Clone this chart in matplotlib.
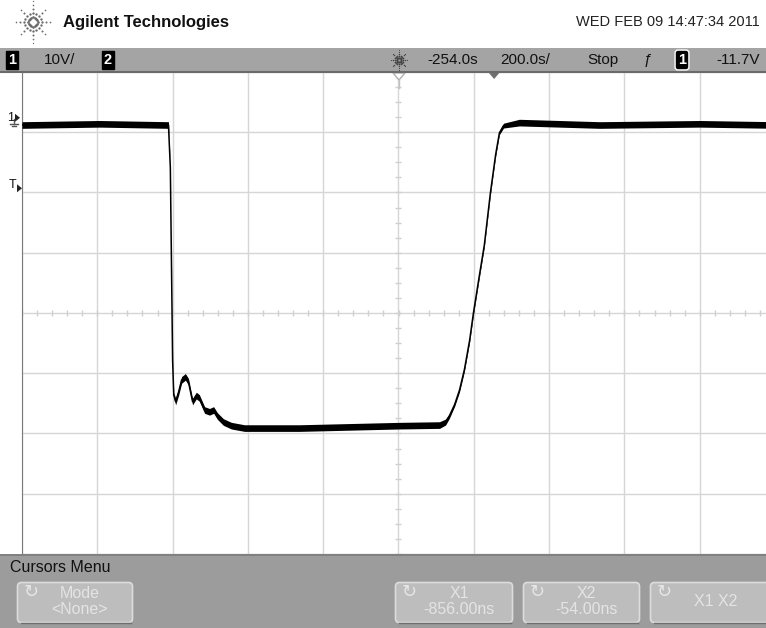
import numpy as np
import matplotlib
matplotlib.use("Agg")
import matplotlib.pyplot as plt
from matplotlib.patches import Rectangle, FancyBboxPatch, Polygon

# scope settings
volts_per_div = 10.0
time_per_div = 200.0      # ns
delay = -254.0            # ns, centre of screen
centre_volts = -32.4      # channel 1 level at the centre line
trig_level = -11.7

# channel 1 trace (ns, V)
t_ns = [-1254, -1048, -865, -860, -854, -851, -846, -838, -830, -820, -812, -801,
        -791, -783, -769, -756, -745, -735, -719, -698, -663, -517, -384, -251,
        -145, -129, -119, -105, -92, -79, -65, -55, -39, -26, -10, 4, 14, 25,
        67, 280, 546, 746]
v_ch1 = [-1.2, -1.0, -1.2, -8.3, -40.2, -46.0, -47.1, -45.5, -43.5, -43.0, -43.8, -47.1,
         -46.1, -46.5, -48.5, -48.8, -48.5, -49.5, -50.5, -51.1, -51.5, -51.5, -51.3, -51.1,
         -51.0, -50.5, -49.5, -47.6, -45.2, -41.8, -36.9, -32.4, -26.1, -21.1, -12.5, -6.1, -2.5, -1.3,
         -0.8, -1.2, -1.0, -1.2]
# half height of the noise band on the trace (V)
noise = [0.55, 0.55, 0.55, 0.2, 0.2, 0.4, 0.55, 0.55, 0.55, 0.55, 0.55, 0.55,
         0.55, 0.55, 0.55, 0.55, 0.55, 0.55, 0.55, 0.55, 0.55, 0.55, 0.55, 0.55,
         0.55, 0.5, 0.4, 0.3, 0.3, 0.3, 0.3, 0.3, 0.3, 0.3, 0.3, 0.3, 0.3, 0.4,
         0.55, 0.55, 0.55, 0.55]

header = "Agilent Technologies"
date_str = "WED FEB 09 14:47:34 2011"
buttons = [("Mode", "<None>"), ("X1", "-856.00ns"), ("X2", "-54.00ns"), ("X1 X2", None)]

W, H = 766, 628
narrow = ["Liberation Sans Narrow", "Liberation Sans", "DejaVu Sans"]

fig = plt.figure(figsize=(W / 100, H / 100), dpi=100)
fig.patch.set_facecolor("white")

# graticule area (pixels 22..775 x 72..554)
ax = fig.add_axes([22 / W, 1 - 554 / H, (775 - 22) / W, (554 - 72) / H])
ax.set_xlim(delay - 5 * time_per_div, delay + 5 * time_per_div)
ax.set_ylim(centre_volts - 4 * volts_per_div, centre_volts + 4 * volts_per_div)
ax.set_xticks(delay + time_per_div * np.arange(-5, 6))
ax.set_yticks(centre_volts + volts_per_div * np.arange(-4, 5))
ax.grid(True, color="#d6d6d6", lw=1.0)
ax.tick_params(length=0, labelbottom=False, labelleft=False)
for s in ["top", "right"]:
    ax.spines[s].set_visible(False)
ax.spines["left"].set_color("#7a7a7a")
ax.spines["bottom"].set_color("#8a8a8a")

# fine ticks on the centre cross
xs = delay + time_per_div * np.arange(-5, 5.01, 0.2)
ax.plot(xs, np.full(len(xs), centre_volts), "|", ms=5, color="#cfcfcf", mew=1)
ys = centre_volts + volts_per_div * np.arange(-4, 4.01, 0.25)
ax.plot(np.full(len(ys), delay), ys, "_", ms=5, color="#cfcfcf", mew=1)

t = np.array(t_ns)
v = np.array(v_ch1)
n = np.array(noise)
ax.fill_between(t, v - n, v + n, color="black", lw=0, zorder=3)
ax.plot(t, v, color="black", lw=1.1, zorder=4)

# overlay in pixel coordinates for the scope furniture
ov = fig.add_axes([0, 0, 1, 1], facecolor="none")
ov.set_xlim(0, W)
ov.set_ylim(H, 0)
ov.axis("off")


def spark(cx, cy, r, size, col):
    # Agilent spark made of dots
    for k in range(16):
        a = np.pi * k / 8
        rays = [0.3, 0.55, 0.8, 1.05] if k % 2 == 0 else [0.3, 0.55]
        if k % 8 == 4:
            rays = [0.3, 0.55, 0.8, 1.05, 1.3]
        for j, rr in enumerate(rays):
            ov.scatter(cx + r * rr * np.cos(a), cy + r * rr * np.sin(a),
                       s=size * max(1.2 - 0.25 * j, 0.3), color=col, lw=0)


spark(33, 22, 16, 3, "#6a6a6a")
ov.text(63, 22, header, fontsize=12, fontweight="bold", va="center", ha="left",
        family=narrow, color="#111111")
ov.text(760, 22, date_str, fontsize=10.5, va="center", ha="right", family=narrow, color="#222222")

# status bar
ov.add_patch(Rectangle((0, 48), W, 24, color="#a4a4a4", lw=0))
ov.plot([0, W], [71.5, 71.5], color="#6a6a6a", lw=1.5)
ov.text(12, 60, "1", fontsize=10.5, fontweight="bold", color="white", ha="center", va="center",
        family=narrow, bbox=dict(boxstyle="square,pad=0.12", fc="black", ec="black"))
ov.text(44, 60, "10V/", fontsize=11, ha="left", va="center", family=narrow, color="#111111")
ov.text(108, 60, "2", fontsize=10.5, fontweight="bold", color="white", ha="center", va="center",
        family=narrow, bbox=dict(boxstyle="square,pad=0.12", fc="black", ec="black"))
spark(399, 60, 8, 1.6, "#444444")
ov.text(427, 60, "-254.0s", fontsize=11, ha="left", va="center", family=narrow, color="#111111")
ov.text(500, 60, "200.0s/", fontsize=11, ha="left", va="center", family=narrow, color="#111111")
ov.text(587, 60, "Stop", fontsize=11, ha="left", va="center", family=narrow, color="#111111")
ov.text(648, 60, "ƒ", fontsize=11, ha="center", va="center", family=narrow, color="#111111")
ov.text(682, 60, "1", fontsize=10.5, fontweight="bold", color="white", ha="center", va="center",
        family=narrow, bbox=dict(boxstyle="round,pad=0.2", fc="black", ec="white", lw=1))
ov.text(760, 60, "-11.7V", fontsize=11, ha="right", va="center", family=narrow, color="#111111")

# delay and trigger markers below the status bar
ov.add_patch(Polygon([[393, 73], [405, 73], [399, 80]], closed=True, fc="white", ec="#b0b0b0", lw=1))
ov.plot([399, 399], [80, 88], color="#c0c0c0", lw=1)
x_trig = 22 + (0 - (delay - 5 * time_per_div)) / (10 * time_per_div) * (775 - 22)
ov.add_patch(Polygon([[x_trig - 6, 72], [x_trig + 6, 72], [x_trig, 79]], closed=True,
                     fc="#707070", ec="none"))

# channel ground and trigger level markers on the left edge
y_gnd = 554 - (0 - (centre_volts - 4 * volts_per_div)) / (8 * volts_per_div) * (554 - 72)
y_trg = 554 - (trig_level - (centre_volts - 4 * volts_per_div)) / (8 * volts_per_div) * (554 - 72)
ov.text(11, y_gnd, "1", fontsize=9, ha="center", va="center", family=narrow, color="#111111")
ov.add_patch(Polygon([[15, y_gnd - 4], [15, y_gnd + 4], [20, y_gnd]], closed=True, fc="#222222"))
ov.plot([10, 18], [y_gnd + 6, y_gnd + 6], color="#555555", lw=1)
ov.plot([12, 16], [y_gnd + 8.5, y_gnd + 8.5], color="#555555", lw=1)
ov.plot([14, 14], [y_gnd + 1, y_gnd + 6], color="#555555", lw=1)
ov.text(13, y_trg - 3, "T", fontsize=9, ha="center", va="center", family=narrow, color="#111111")
ov.add_patch(Polygon([[17, y_trg - 4], [17, y_trg + 4], [22, y_trg]], closed=True, fc="#222222"))

# softkey menu
ov.add_patch(Rectangle((0, 554), W, H - 554, color="#9c9c9c", lw=0))
ov.plot([0, W], [554.5, 554.5], color="#7c7c7c", lw=1.2)
ov.text(10, 567, "Cursors Menu", fontsize=11.5, ha="left", va="center", family=narrow, color="#111111")

btn_x = [(17, 133), (395, 513), (523, 640), (650, 772)]
for (x0, x1), (l1, l2) in zip(btn_x, buttons):
    ov.add_patch(FancyBboxPatch((x0 + 2, 584), x1 - x0 - 4, 37, boxstyle="round,pad=1.5,rounding_size=4",
                                fc="#bdbdbd", ec="#dcdcdc", lw=1.2))
    ov.plot([x0 + 4, x1 - 2], [623, 623], color="#6e6e6e", lw=1)
    ov.text(x0 + 14, 592, "↻", fontsize=13, ha="center", va="center", color="#e6e6e6", family="DejaVu Sans")
    cx = (x0 + x1) / 2 + 5
    if l2 is None:
        ov.text(cx, 602, l1, fontsize=11.5, ha="center", va="center", family=narrow, color="#e4e4e4")
    else:
        ov.text(cx, 594, l1, fontsize=11.5, ha="center", va="center", family=narrow, color="#e4e4e4")
        ov.text(cx, 609, l2, fontsize=11.5, ha="center", va="center", family=narrow, color="#e4e4e4")

fig.savefig("out.png", dpi=100)
